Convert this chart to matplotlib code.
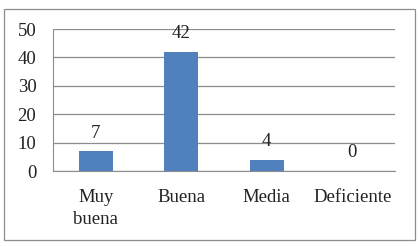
import matplotlib
matplotlib.use("Agg")
import matplotlib.pyplot as plt
from matplotlib.patches import Rectangle

categories = ["Muy\nbuena", "Buena", "Media", "Deficiente"]
values = [7, 42, 4, 0]
yticks = [0, 10, 20, 30, 40, 50]

plt.rcParams['font.family'] = ['Liberation Serif', 'DejaVu Serif']

W, H = 419, 246
fig = plt.figure(figsize=(W/100, H/100), dpi=100)
fig.patches.append(Rectangle((4/W, 1-240/H), 411/W, 231/H, transform=fig.transFigure,
                             fill=False, edgecolor='#8c8c8c', linewidth=0.9))
ax = fig.add_axes([53/W, 1-171/H, (395-53)/W, (171-29)/H])
x = list(range(len(categories)))
ax.bar(x, values, width=0.4, color='#4f81bd', zorder=3)
ax.set_xlim(-0.5, len(categories)-0.5)
ax.set_ylim(0, 50)
ax.set_yticks(yticks)
ax.set_xticks(x)
ax.set_xticklabels(categories, linespacing=1.38)
ax.tick_params(axis='both', length=0, labelsize=13.5, colors='#222222')
ax.tick_params(axis='y', pad=12)
ax.tick_params(axis='x', pad=13)
ax.grid(axis='y', color='#8c8c8c', linewidth=0.9, zorder=0)
for s in ['top', 'right']:
    ax.spines[s].set_visible(False)
ax.spines['left'].set_color('#8c8c8c')
ax.spines['bottom'].set_color('#8c8c8c')
for xi, v in zip(x, values):
    ax.annotate(str(v), (xi, v), xytext=(0, 13), textcoords='offset points',
                ha='center', va='center', fontsize=13.5, color='#222222')
fig.savefig('out.png', dpi=100)
